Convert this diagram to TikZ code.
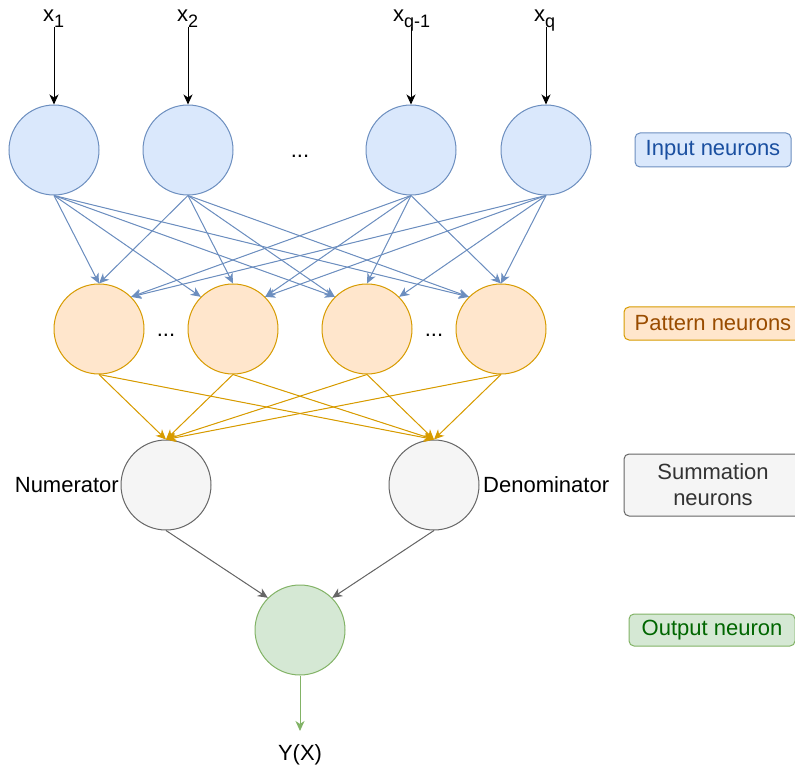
\documentclass[tikz,border=0pt]{standalone}
\usepackage{fontspec}
\setmainfont{Liberation Sans}
\usetikzlibrary{arrows.meta}

\definecolor{inFill}{HTML}{DAE8FC}
\definecolor{inLine}{HTML}{6C8EBF}
\definecolor{inText}{HTML}{1A4FA0}
\definecolor{patFill}{HTML}{FFE6CC}
\definecolor{patLine}{HTML}{D79B00}
\definecolor{patText}{HTML}{994C00}
\definecolor{sumFill}{HTML}{F5F5F5}
\definecolor{sumLine}{HTML}{666666}
\definecolor{sumText}{HTML}{333333}
\definecolor{outFill}{HTML}{D5E8D4}
\definecolor{outLine}{HTML}{82B366}
\definecolor{outText}{HTML}{006600}

% lowered, smaller index for the input labels
\newcommand\lowsub[1]{\raisebox{-6pt}{\fontsize{18}{18}\selectfont #1}}

\begin{document}
\begin{tikzpicture}[x=1pt,y=-1pt,
  every node/.style={font=\fontsize{22}{26}\selectfont, inner sep=0pt},
  neuron/.style={circle, draw, line width=1pt, minimum size=90pt},
  inputn/.style={neuron, fill=inFill, draw=inLine},
  patternn/.style={neuron, fill=patFill, draw=patLine},
  sumn/.style={neuron, fill=sumFill, draw=sumLine},
  outn/.style={neuron, fill=outFill, draw=outLine},
  tag/.style={rounded corners=5pt, draw, line width=1pt, align=center},
  conn/.style={line width=1pt, -{Stealth[length=10pt,width=9pt,inset=3pt]}},
]
\useasboundingbox (0,0) rectangle (795,767);
\clip (0,0) rectangle (795,767);

% input layer
\node[inputn] (i1) at (54,150) {};
\node[inputn] (i2) at (188,150) {};
\node[inputn] (i3) at (411,150) {};
\node[inputn] (i4) at (546,150) {};
\node[anchor=base] (idots) at (300,158) {...};

% input labels and their arrows
\node[anchor=base west] (lx1) at (43,22) {x\lowsub{1}};
\node[anchor=base west] (lx2) at (177,22) {x\lowsub{2}};
\node[anchor=base west] (lx3) at (393,22) {x\lowsub{q-1}};
\node[anchor=base west] (lx4) at (534,22) {x\lowsub{q}};
\coordinate (s1) at (54,27);
\coordinate (s2) at (188,27);
\coordinate (s3) at (411,27);
\coordinate (s4) at (546,27);
\foreach \k in {1,...,4} \draw[conn, black] (s\k) -- (i\k.north);

% pattern layer
\node[patternn] (p1) at (99,329) {};
\node[patternn] (p2) at (233,329) {};
\node[patternn] (p3) at (367,329) {};
\node[patternn] (p4) at (501,329) {};
\node[anchor=base] (pdots1) at (166,337) {...};
\node[anchor=base] (pdots2) at (434,337) {...};

% input -> pattern
\begin{scope}[every path/.style={conn, draw=inLine, fill=inLine}]
  \draw (i1.south) -- (p1.north);
  \draw (i2.south) -- (p1.north);
  \draw (i3.south) -- (p1.north east);
  \draw (i4.south) -- (p1.north east);
  \draw (i1.south) -- (p2.north west);
  \draw (i2.south) -- (p2.north);
  \draw (i3.south) -- (p2.north east);
  \draw (i4.south) -- (p2.north east);
  \draw (i1.south) -- (p3.north west);
  \draw (i2.south) -- (p3.north west);
  \draw (i3.south) -- (p3.north);
  \draw (i4.south) -- (p3.north east);
  \draw (i1.south) -- (p4.north west);
  \draw (i2.south) -- (p4.north west);
  \draw (i3.south) -- (p4.north);
  \draw (i4.south) -- (p4.north);
\end{scope}

% summation layer
\node[sumn] (num) at (166,485) {};
\node[sumn] (den) at (434,485) {};
\node[anchor=base east] (lnum) at (119,492) {Numerator};
\node[anchor=base west] (lden) at (483,492) {Denominator};

% pattern -> summation
\foreach \k in {1,...,4} {
  \draw[conn, draw=patLine, fill=patLine] (p\k.south) -- (num.north);
  \draw[conn, draw=patLine, fill=patLine] (p\k.south) -- (den.north);
}

% output layer
\node[outn] (out) at (300,630) {};
\draw[conn, draw=sumLine, fill=sumLine] (num.south) -- (out.north west);
\draw[conn, draw=sumLine, fill=sumLine] (den.south) -- (out.north east);
\node[anchor=base] (yx) at (300,760) {Y(X)};
\coordinate (yend) at (300,731);
\draw[conn, draw=outLine, fill=outLine] (out.south) -- (yend);

% layer tags
\node[tag, fill=inFill, draw=inLine, text=inText, minimum width=156pt, minimum height=34pt] (tin) at (713,150) {Input neurons};
\node[tag, fill=patFill, draw=patLine, text=patText, minimum width=178pt, minimum height=33pt] (tpat) at (713,323.5) {Pattern neurons};
\node[tag, fill=sumFill, draw=sumLine, text=sumText, minimum width=178pt, minimum height=62pt] (tsum) at (713,485) {Summation\\neurons};
\node[tag, fill=outFill, draw=outLine, text=outText, minimum width=166pt, minimum height=32pt] (tout) at (712,630) {Output neuron};
\end{tikzpicture}
\end{document}
